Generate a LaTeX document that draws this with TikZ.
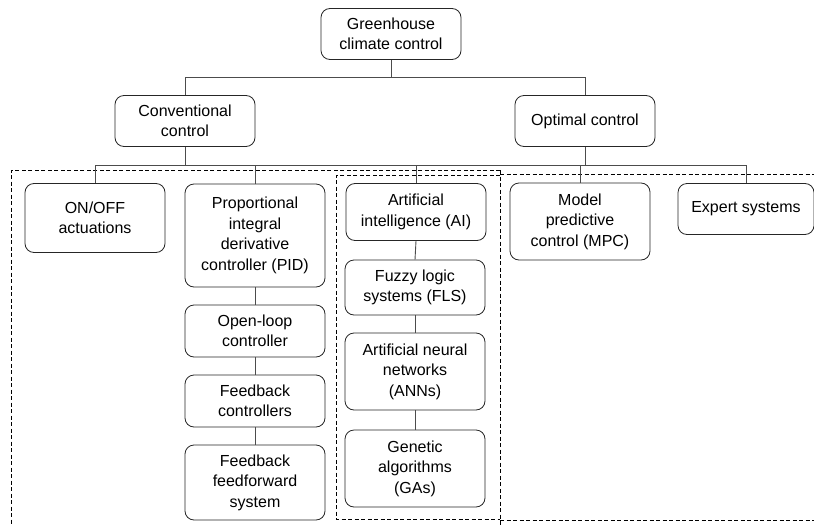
\documentclass[tikz,border=0pt]{standalone}
\usepackage{fontspec}
\setmainfont{Liberation Sans}
\begin{document}
\begin{tikzpicture}[x=1pt,y=-1pt,
  box/.style={draw=black!85, line width=0.8pt, rounded corners=9pt, align=center,
    minimum width=140pt, inner sep=2pt, font=\fontsize{16}{20.5}\selectfont},
  conn/.style={draw=black!70, line width=0.9pt},
  grp/.style={draw=black, line width=0.7pt, dash pattern=on 4pt off 2.5pt}]
\useasboundingbox (0,0) rectangle (814,525);
% dashed groups
\draw[grp] (500,170) -- (11,170) -- (11,530);
\draw[grp] (500,170) -- (500,530);
\draw[grp] (500,174) -- (820,174);
\draw[grp] (500,520) -- (820,520);
\draw[grp] (500,175) -- (336,175) -- (336,519) -- (500,519);
% nodes
\node[box, minimum height=51pt] (gh) at (391,34) {Greenhouse\\climate control};
\node[box, minimum height=51pt] (conv) at (185,121) {Conventional\\control};
\node[box, minimum height=51pt] (opt) at (585,121) {Optimal control};
\node[box, minimum height=69pt] (onoff) at (95,218) {ON/OFF\\actuations};
\node[box, minimum height=103pt] (pid) at (255,235.5) {Proportional\\integral\\derivative\\controller (PID)};
\node[box, minimum height=52pt] (ol) at (255,331) {Open-loop\\controller};
\node[box, minimum height=52pt] (fb) at (255,401) {Feedback\\controllers};
\node[box, minimum height=75pt] (ff) at (255,482.5) {Feedback\\feedforward\\system};
\node[box, minimum height=57pt] (ai) at (416,212) {Artificial\\intelligence (AI)};
\node[box, minimum height=55pt] (fls) at (415,287.5) {Fuzzy logic\\systems (FLS)};
\node[box, minimum height=77pt] (ann) at (415,371.5) {Artificial neural\\networks\\(ANNs)};
\node[box, minimum height=77pt] (ga) at (415,468.5) {Genetic\\algorithms\\(GAs)};
\node[box, minimum height=77pt] (mpc) at (580,221.5) {Model\\predictive\\control (MPC)};
\node[box, minimum height=51pt, minimum width=136pt] (exp) at (746,209) {Expert systems};
% buses
\coordinate (b1) at (0,77);
\coordinate (b2) at (0,165);
\draw[conn] (gh.south) -- (gh.south |- b1);
\draw[conn] (conv.north) |- (opt.north |- b1) -- (opt.north);
\draw[conn] (conv.south) -- (conv.south |- b2);
\draw[conn] (opt.south) -- (opt.south |- b2);
\draw[conn] (onoff.north) |- (exp.north |- b2) -- (exp.north);
\draw[conn] (pid.north) -- (pid.north |- b2);
\draw[conn] (ai.north) -- (ai.north |- b2);
\draw[conn] (mpc.north) -- (mpc.north |- b2);
% chains
\draw[conn] (pid.south) -- (ol.north);
\draw[conn] (ol.south) -- (fb.north);
\draw[conn] (fb.south) -- (ff.north);
\draw[conn] (ai.south) -- (fls.north);
\draw[conn] (fls.south) -- (ann.north);
\draw[conn] (ann.south) -- (ga.north);
\end{tikzpicture}
\end{document}
